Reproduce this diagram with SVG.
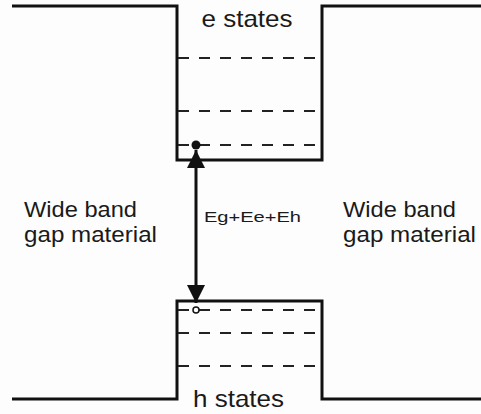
<svg xmlns="http://www.w3.org/2000/svg" width="481" height="414" viewBox="0 0 481 414">
<defs>
<style>
.band{fill:none;stroke:#111;stroke-width:3;stroke-linejoin:miter}
.lvl{stroke:#222;stroke-width:2.2;stroke-dasharray:11 10}
.t{font-family:"Liberation Sans",Arial,sans-serif;fill:#1a1a1a}
</style>
<marker id="ah" viewBox="0 0 10 10" refX="10" refY="5" markerWidth="6" markerHeight="6" orient="auto-start-reverse" markerUnits="strokeWidth">
<path d="M0,0 L10,5 L0,10 Z" fill="#111"/>
</marker>
</defs>
<rect width="481" height="414" fill="#fdfdfd"/>
<g id="conduction-band">
<polyline class="band" points="12,6 177,6 177,160 322,160 322,6 481,6"/>
<text class="t" x="247" y="27" font-size="24" text-anchor="middle" textLength="91" lengthAdjust="spacingAndGlyphs">e states</text>
<line class="lvl" x1="178" y1="58" x2="318" y2="58"/>
<line class="lvl" x1="178" y1="111" x2="318" y2="111"/>
<line class="lvl" x1="178" y1="145" x2="318" y2="145"/>
</g>
<g id="valence-band">
<polyline class="band" points="12,399 177,399 177,301 322,301 322,399 481,399"/>
<line class="lvl" x1="178" y1="310" x2="318" y2="310"/>
<line class="lvl" x1="178" y1="333" x2="318" y2="333"/>
<line class="lvl" x1="178" y1="366" x2="318" y2="366"/>
<text class="t" x="238.5" y="407" font-size="24" text-anchor="middle" textLength="91" lengthAdjust="spacingAndGlyphs">h states</text>
</g>
<g id="left-material">
<text class="t" x="24" y="217" font-size="22" textLength="113" lengthAdjust="spacingAndGlyphs">Wide band</text>
<text class="t" x="24" y="242" font-size="22" textLength="133" lengthAdjust="spacingAndGlyphs">gap material</text>
</g>
<g id="right-material">
<text class="t" x="343" y="217" font-size="22" textLength="113" lengthAdjust="spacingAndGlyphs">Wide band</text>
<text class="t" x="343" y="242" font-size="22" textLength="133" lengthAdjust="spacingAndGlyphs">gap material</text>
</g>
<g id="connectors">
<line x1="196" y1="150" x2="196" y2="303" stroke="#111" stroke-width="3" marker-start="url(#ah)" marker-end="url(#ah)"/>
<circle cx="196" cy="145" r="4.5" fill="#111"/>
<circle cx="196" cy="310" r="3" fill="#fff" stroke="#111" stroke-width="1.5"/>
<text class="t" x="204" y="222" font-size="15.5" textLength="97" lengthAdjust="spacingAndGlyphs">Eg+Ee+Eh</text>
</g>
</svg>
